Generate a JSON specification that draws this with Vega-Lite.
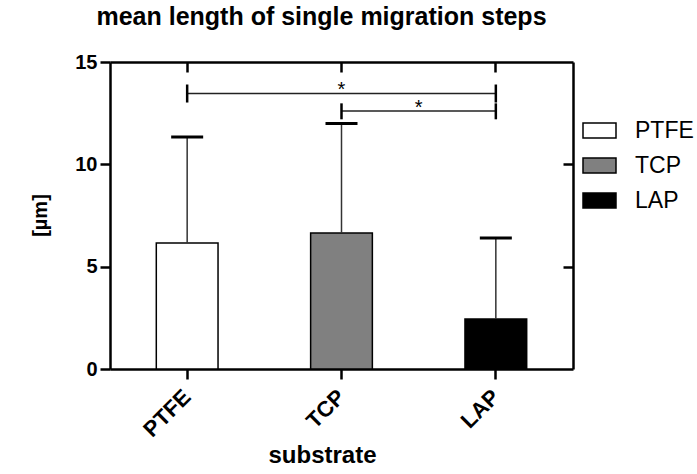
{
  "$schema": "https://vega.github.io/schema/vega-lite/v6.json",
  "autosize": "none",
  "width": 463,
  "height": 307,
  "padding": {"left": 110, "top": 62, "right": 124, "bottom": 105},
  "background": "white",
  "title": {
    "text": "mean length of single migration steps",
    "font": "Liberation Sans",
    "fontSize": 25,
    "fontWeight": "bold",
    "color": "black",
    "anchor": "middle",
    "dx": -20,
    "offset": 22
  },
  "datasets": {
    "bars": [
      {"substrate": "PTFE", "mean": 6.16, "upper": 11.33},
      {"substrate": "TCP", "mean": 6.65, "upper": 12.0},
      {"substrate": "LAP", "mean": 2.44, "upper": 6.4}
    ],
    "brackets": [
      {"from": "PTFE", "to": "LAP", "y": 13.46},
      {"from": "TCP", "to": "LAP", "y": 12.6}
    ],
    "ends": [
      {"at": "PTFE", "lo": 13.02, "hi": 13.9},
      {"at": "LAP", "lo": 13.02, "hi": 13.9},
      {"at": "TCP", "lo": 12.2, "hi": 12.98},
      {"at": "LAP", "lo": 12.2, "hi": 12.98}
    ],
    "starCenter": [{"at": "TCP", "y": 13.33, "label": "*"}],
    "starEdge": [{"at": "LAP", "y": 12.47, "label": "*"}]
  },
  "layer": [
    {
      "data": {"name": "bars"},
      "mark": {"type": "bar", "width": {"band": 0.4}, "stroke": "black", "strokeWidth": 1.5},
      "encoding": {
        "x": {
          "field": "substrate", "type": "nominal",
          "scale": {"domain": ["PTFE", "TCP", "LAP"], "paddingInner": 0, "paddingOuter": 0},
          "axis": {
            "orient": "bottom", "title": "substrate", "labelAngle": -45,
            "labelAlign": "right", "labelBaseline": "middle", "labelPadding": 14, "labelFontSize": 22,
            "tickSize": 10, "titleX": 212, "titleY": 86, "titleBaseline": "middle", "titleAlign": "center",
            "titleFontSize": 24
          }
        },
        "y": {
          "field": "mean", "type": "quantitative",
          "scale": {"domain": [0, 15], "nice": false},
          "axis": {
            "orient": "left", "title": "[µm]", "values": [0, 5, 10, 15], "tickSize": 10,
            "labelPadding": 3, "titleX": -70, "titleY": 153, "titleAngle": -90,
            "titleBaseline": "middle", "titleAlign": "center"
          }
        },
        "fill": {
          "field": "substrate", "type": "nominal",
          "scale": {"domain": ["PTFE", "TCP", "LAP"], "range": ["#ffffff", "#808080", "#000000"]},
          "legend": {
            "title": null, "orient": "none", "legendX": 472, "legendY": 51,
            "symbolType": "M-1,-0.45H1V0.45H-1Z", "symbolSize": 1089,
            "symbolStrokeColor": "black", "symbolStrokeWidth": 1.5, "symbolOpacity": 1,
            "labelFont": "Liberation Sans", "labelFontSize": 23, "labelColor": "black",
            "labelOffset": 18, "rowPadding": 5, "padding": 0
          }
        }
      }
    },
    {
      "data": {"name": "bars"},
      "mark": {"type": "rule", "stroke": "#333333", "strokeWidth": 1.5},
      "encoding": {
        "x": {
          "field": "substrate", "type": "nominal",
          "axis": {"orient": "top", "title": null, "labels": false, "tickSize": -10}
        },
        "y": {"field": "mean", "type": "quantitative", "axis": null},
        "y2": {"field": "upper"}
      }
    },
    {
      "data": {"name": "bars"},
      "mark": {"type": "tick", "size": 32, "thickness": 3, "color": "black", "opacity": 1},
      "encoding": {
        "x": {"field": "substrate", "type": "nominal", "axis": null},
        "y": {
          "field": "upper", "type": "quantitative",
          "axis": {"orient": "right", "title": null, "labels": false, "values": [5, 10], "tickSize": -10}
        }
      }
    },
    {
      "data": {"name": "brackets"},
      "mark": {"type": "rule", "stroke": "#222222", "strokeWidth": 1.5},
      "encoding": {
        "x": {"field": "from", "type": "nominal", "axis": null},
        "x2": {"field": "to"},
        "y": {"field": "y", "type": "quantitative", "axis": null}
      }
    },
    {
      "data": {"name": "ends"},
      "mark": {"type": "rule", "stroke": "black", "strokeWidth": 2.5},
      "encoding": {
        "x": {"field": "at", "type": "nominal", "axis": null},
        "y": {"field": "lo", "type": "quantitative", "axis": null},
        "y2": {"field": "hi"}
      }
    },
    {
      "data": {"name": "starCenter"},
      "mark": {"type": "text", "font": "Liberation Sans", "fontSize": 20, "baseline": "alphabetic", "align": "center", "color": "black"},
      "encoding": {
        "x": {"field": "at", "type": "nominal", "bandPosition": 0.5, "axis": null},
        "y": {"field": "y", "type": "quantitative", "axis": null},
        "text": {"field": "label"}
      }
    },
    {
      "data": {"name": "starEdge"},
      "mark": {"type": "text", "font": "Liberation Sans", "fontSize": 20, "baseline": "alphabetic", "align": "center", "color": "black"},
      "encoding": {
        "x": {"field": "at", "type": "nominal", "bandPosition": 0, "axis": null},
        "y": {"field": "y", "type": "quantitative", "axis": null},
        "text": {"field": "label"}
      }
    }
  ],
  "config": {
    "view": {"stroke": null},
    "axis": {
      "grid": false,
      "domainColor": "black", "domainWidth": 2.5,
      "tickColor": "black", "tickWidth": 2.5,
      "labelFont": "Liberation Sans", "labelFontSize": 20, "labelFontWeight": "bold", "labelColor": "black",
      "titleFont": "Liberation Sans", "titleFontSize": 20, "titleFontWeight": "bold", "titleColor": "black"
    }
  }
}
